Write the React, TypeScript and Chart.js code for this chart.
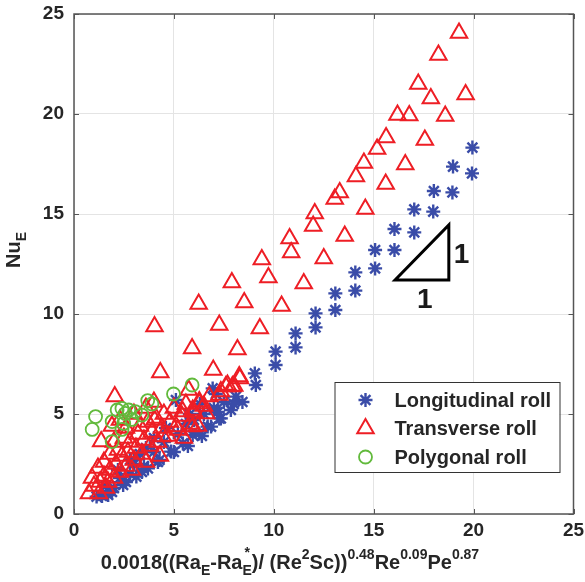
import React, { useEffect, useRef } from "react";
import { Chart, registerables } from "chart.js";
import { drawPoint } from "chart.js/helpers";

Chart.register(...registerables);

// ---- Data ----
const longX = [19.94, 18.97, 19.92, 18.01, 18.94, 17.03, 17.98, 16.04, 17.03, 15.07, 16.04, 14.08, 15.07, 14.08, 13.08, 13.08, 12.09, 12.09, 11.09, 11.09, 10.09, 10.09, 9.05, 9.1, 8.43, 8.1, 7.85, 7.35, 6.94, 6.86, 6.27,
  1.13, 1.71, 2.46, 3.12, 3.7, 4.28, 4.86, 5.45, 5.94, 7.27, 6.69, 5.1,
  2.0, 2.3, 2.8, 3.0, 3.5, 3.3, 4.0, 4.5, 5.2, 5.6, 6.0, 6.5, 7.0, 7.5, 6.3, 5.8, 4.6, 4.0, 3.6, 2.8, 2.2, 1.6, 1.9, 2.6, 3.4, 4.2, 5.0, 5.7, 6.4, 1.4, 7.1, 7.2, 8.0];
const longY = [18.32, 17.37, 17.03, 16.15, 16.08, 15.23, 15.12, 14.25, 14.08, 13.2, 13.2, 12.08, 12.28, 11.17, 11.03, 10.2, 10.03, 9.33, 9.03, 8.33, 8.12, 7.45, 7.03, 6.45, 5.6, 5.87, 5.2, 4.78, 6.28, 4.37, 4.03,
  0.87, 0.95, 1.45, 1.87, 2.28, 2.7, 3.12, 3.53, 3.95, 4.78, 4.37, 5.7,
  1.3, 1.8, 2.0, 2.5, 2.4, 3.0, 3.1, 3.6, 4.0, 4.5, 4.7, 5.0, 5.3, 5.6, 5.5, 5.0, 4.3, 3.8, 3.3, 2.7, 2.2, 1.4, 1.1, 1.6, 2.1, 2.6, 3.1, 3.4, 3.9, 0.9, 6.0, 5.1, 5.5];

const transX = [19.27, 18.24, 17.23, 19.6, 17.86, 16.19, 16.78, 18.58, 15.62, 17.56, 15.17, 14.51, 16.58, 14.11, 15.6, 13.3, 13.05, 14.58, 12.05, 11.97, 13.55, 12.5, 11.5,
  10.79, 10.87, 9.4, 9.73, 7.9, 8.52, 6.24, 10.39, 4.03, 7.27, 9.3, 5.91, 8.18, 4.32, 6.97, 8.3, 7.93, 5.74, 2.04, 7.27,
  8.27, 7.68, 8.02, 7.35, 6.77, 6.27, 5.94, 7.6, 5.44, 6.27, 6.61, 5.11, 4.45, 5.94, 4.03,
  0.75, 1.25, 1.0, 1.3, 1.6, 1.5, 1.8, 1.7, 2.0, 2.1, 2.3, 2.4, 2.2, 2.6, 2.7, 2.8, 2.5, 3.0, 3.1, 3.2, 3.4, 3.5, 3.3, 3.7, 3.8, 3.9, 4.1, 4.2, 4.4, 4.5, 4.7, 4.8, 5.0, 5.2, 5.4, 5.6, 5.8, 6.0, 6.5, 1.36, 1.9, 2.3, 2.6, 3.0, 3.6, 1.2, 0.9, 1.5, 1.8, 2.0, 4.0, 4.3, 3.6, 2.9, 5.5, 6.2];
const transY = [24.05, 22.95, 21.5, 20.98, 20.78, 19.95, 19.92, 19.9, 18.83, 18.7, 18.25, 17.55, 17.48, 16.88, 16.5, 16.08, 15.75, 15.25, 15.03, 14.4, 13.9, 12.78, 11.53,
  13.77, 13.07, 12.73, 11.83, 11.57, 10.57, 10.5, 10.4, 9.37, 9.45, 9.28, 8.28, 8.23, 7.07, 7.2, 6.78, 6.37, 6.2, 5.87, 5.95,
  6.87, 6.45, 6.4, 6.12, 5.87, 5.62, 5.2, 6.37, 5.12, 5.53, 5.03, 4.37, 3.87, 4.37, 4.7,
  1.03, 1.03, 1.4, 1.6, 1.3, 1.9, 2.2, 1.6, 1.8, 2.5, 2.1, 2.9, 3.2, 2.4, 3.1, 3.6, 3.8, 2.7, 3.3, 4.0, 3.0, 3.7, 4.4, 4.6, 3.4, 4.1, 4.8, 3.6, 4.3, 5.0, 3.9, 4.6, 5.3, 4.2, 4.9, 5.5, 4.5, 5.1, 5.4, 3.62, 4.4, 4.7, 4.3, 5.0, 5.3, 2.3, 1.8, 2.6, 3.0, 3.6, 5.6, 2.9, 2.6, 2.2, 3.8, 4.4];

const polyX = [5.91, 4.98, 3.69, 3.9, 2.4, 2.57, 3.07, 3.4, 1.08, 1.91, 2.49, 2.9, 0.91, 2.4, 1.91, 2.16, 2.74];
const polyY = [6.45, 6.0, 5.67, 5.5, 5.28, 5.03, 5.12, 4.95, 4.87, 4.62, 4.53, 4.73, 4.23, 4.23, 3.62, 5.2, 5.2];

const seriesNames = ["Longitudinal roll", "Transverse roll", "Polygonal roll"];
const xTicks = [0, 5, 10, 15, 20, 25];
const yTicks = [0, 5, 10, 15, 20, 25];

// slope triangle annotation (data units)
const slopeX = [16.07, 18.76, 18.76];
const slopeY = [11.7, 11.7, 14.45];
const slopeLabelX = [17.56, 19.39];
const slopeLabelY = [10.7, 12.95];

const FONT = '"Liberation Sans", Arial, sans-serif';
const BLUE = "#3a4ca8";
const RED = "#ee1e25";
const GREEN = "#62ba3c";
const TXT = "#262626";

const zip = (xs: number[], ys: number[]) => xs.map((x, i) => ({ x, y: ys[i] }));

const styles = [
  { color: BLUE, pointStyle: "star", radius: 7, borderWidth: 2.4 },
  { color: RED, pointStyle: "triangle", radius: 9.5, borderWidth: 2 },
  { color: GREEN, pointStyle: "circle", radius: 6.5, borderWidth: 1.8 },
];

const decorPlugin = {
  id: "decor",
  afterDraw(chart: any) {
    const { ctx, chartArea: ca, scales } = chart;
    const xs = scales.x;
    const ys = scales.y;
    ctx.save();

    // box border
    ctx.strokeStyle = "#555555";
    ctx.lineWidth = 1.5;
    ctx.strokeRect(ca.left, ca.top, ca.right - ca.left, ca.bottom - ca.top);
    // inward ticks on four sides
    const tl = 5;
    ctx.beginPath();
    xTicks.forEach((t) => {
      const px = Math.round(xs.getPixelForValue(t)) + 0.5;
      ctx.moveTo(px, ca.bottom);
      ctx.lineTo(px, ca.bottom - tl);
      ctx.moveTo(px, ca.top);
      ctx.lineTo(px, ca.top + tl);
    });
    yTicks.forEach((t) => {
      const py = Math.round(ys.getPixelForValue(t)) + 0.5;
      ctx.moveTo(ca.left, py);
      ctx.lineTo(ca.left + tl, py);
      ctx.moveTo(ca.right, py);
      ctx.lineTo(ca.right - tl, py);
    });
    ctx.lineWidth = 1;
    ctx.stroke();

    // slope triangle
    ctx.beginPath();
    slopeX.forEach((v, i) => {
      const px = xs.getPixelForValue(v);
      const py = ys.getPixelForValue(slopeY[i]);
      if (i === 0) ctx.moveTo(px, py);
      else ctx.lineTo(px, py);
    });
    ctx.closePath();
    ctx.strokeStyle = "#000";
    ctx.lineWidth = 3;
    ctx.lineJoin = "miter";
    ctx.stroke();
    ctx.fillStyle = "#1a1a1a";
    ctx.font = `bold 28px ${FONT}`;
    ctx.textAlign = "center";
    ctx.textBaseline = "middle";
    slopeLabelX.forEach((v, i) => {
      ctx.fillText("1", xs.getPixelForValue(v), ys.getPixelForValue(slopeLabelY[i]));
    });

    // legend
    const lx0 = ca.right - 239;
    const ly0 = ca.bottom - 132;
    const lw = 225;
    const lh = 90;
    ctx.fillStyle = "#fff";
    ctx.fillRect(lx0, ly0, lw, lh);
    ctx.strokeStyle = "#333";
    ctx.lineWidth = 1;
    ctx.strokeRect(lx0 + 0.5, ly0 + 0.5, lw, lh);
    ctx.font = `bold 20px ${FONT}`;
    ctx.textAlign = "left";
    ctx.textBaseline = "middle";
    seriesNames.forEach((name, i) => {
      const cy = ly0 + 18 + i * 28.5;
      const s = styles[i];
      ctx.strokeStyle = s.color;
      ctx.fillStyle = "rgba(0,0,0,0)";
      ctx.lineWidth = s.borderWidth;
      drawPoint(ctx, { pointStyle: s.pointStyle, radius: s.radius, rotation: 0, borderWidth: s.borderWidth }, lx0 + 31, cy);
      ctx.fillStyle = TXT;
      ctx.fillText(name, lx0 + 60, cy + 1);
    });

    // x-axis title with sub/superscripts
    const big = `bold 20px ${FONT}`;
    const small = `bold 14px ${FONT}`;
    const segs: any[] = [
      { t: "0.0018((Ra", k: "n" },
      { t: "E", k: "sub" },
      { t: "-Ra", k: "n" },
      { t: "E", k: "subsup", s: "*" },
      { t: ")/ (Re", k: "n" },
      { t: "2", k: "sup" },
      { t: "Sc))", k: "n" },
      { t: "0.48", k: "sup" },
      { t: "Re", k: "n" },
      { t: "0.09", k: "sup" },
      { t: "Pe", k: "n" },
      { t: "0.87", k: "sup" },
    ];
    const widthOf = (sg: any) => {
      ctx.font = sg.k === "n" ? big : small;
      return ctx.measureText(sg.t).width;
    };
    const total = segs.reduce((a, sg) => a + widthOf(sg), 0);
    let cx = 290 - total / 2;
    const base = 569;
    ctx.fillStyle = TXT;
    ctx.textBaseline = "alphabetic";
    ctx.textAlign = "left";
    segs.forEach((sg) => {
      const w = widthOf(sg);
      ctx.font = sg.k === "n" ? big : small;
      if (sg.k === "n") ctx.fillText(sg.t, cx, base);
      else if (sg.k === "sup") ctx.fillText(sg.t, cx, base - 10);
      else if (sg.k === "sub") ctx.fillText(sg.t, cx, base + 6);
      else {
        ctx.fillText(sg.t, cx, base + 6);
        ctx.fillText(sg.s, cx + 2, base - 12);
      }
      cx += w;
    });

    // y-axis title Nu_E rotated
    ctx.save();
    ctx.translate(27, 250);
    ctx.rotate(-Math.PI / 2);
    ctx.font = big;
    const wNu = ctx.measureText("Nu").width;
    ctx.font = small;
    const wE = ctx.measureText("E").width;
    const tw = wNu + wE;
    ctx.font = big;
    ctx.fillText("Nu", -tw / 2, -7);
    ctx.font = small;
    ctx.fillText("E", -tw / 2 + wNu, -1);
    ctx.restore();

    ctx.restore();
  },
};

export default function App() {
  const ref = useRef<HTMLCanvasElement | null>(null);
  useEffect(() => {
    if (!ref.current) return;
    const datasets = [
      { data: zip(longX, longY), order: 2 },
      { data: zip(transX, transY), order: 1 },
      { data: zip(polyX, polyY), order: 0 },
    ].map((d, i) => ({
      label: seriesNames[i],
      data: d.data,
      order: d.order,
      pointStyle: styles[i].pointStyle,
      pointRadius: styles[i].radius,
      pointBorderWidth: styles[i].borderWidth,
      borderColor: styles[i].color,
      pointBorderColor: styles[i].color,
      backgroundColor: "rgba(0,0,0,0)",
      pointBackgroundColor: "rgba(0,0,0,0)",
      showLine: false,
    }));
    const chart = new Chart(ref.current, {
      type: "scatter",
      data: { datasets },
      options: {
        animation: false,
        responsive: false,
        devicePixelRatio: 1,
        layout: { padding: { top: 14, right: 9, left: 0, bottom: 0 } },
        plugins: { legend: { display: false }, tooltip: { enabled: false } },
        scales: {
          x: {
            type: "linear",
            min: 0,
            max: 25,
            afterBuildTicks: (s: any) => {
              s.ticks = xTicks.map((v) => ({ value: v }));
            },
            afterFit: (s: any) => {
              s.height = 68;
              s.paddingLeft = 0;
              s.paddingRight = 0;
            },
            ticks: { color: TXT, font: { family: FONT, size: 19, weight: "bold" }, padding: 5, maxRotation: 0 },
            grid: { color: "#e4e4e4", drawTicks: false, lineWidth: 1 },
            border: { display: false },
          },
          y: {
            type: "linear",
            min: 0,
            max: 25,
            afterBuildTicks: (s: any) => {
              s.ticks = yTicks.map((v) => ({ value: v }));
            },
            afterFit: (s: any) => {
              s.width = 74;
              s.paddingTop = 0;
              s.paddingBottom = 0;
            },
            ticks: { color: TXT, font: { family: FONT, size: 19, weight: "bold" }, padding: 10 },
            grid: { color: "#e4e4e4", drawTicks: false, lineWidth: 1 },
            border: { display: false },
          },
        },
      },
      plugins: [decorPlugin],
    });
    return () => chart.destroy();
  }, []);
  return (
    <div style={{ position: "fixed", left: 0, top: 0, width: 585, height: 582, background: "#fff" }}>
      <canvas ref={ref} width={585} height={582} style={{ width: 585, height: 582, display: "block" }} />
    </div>
  );
}
